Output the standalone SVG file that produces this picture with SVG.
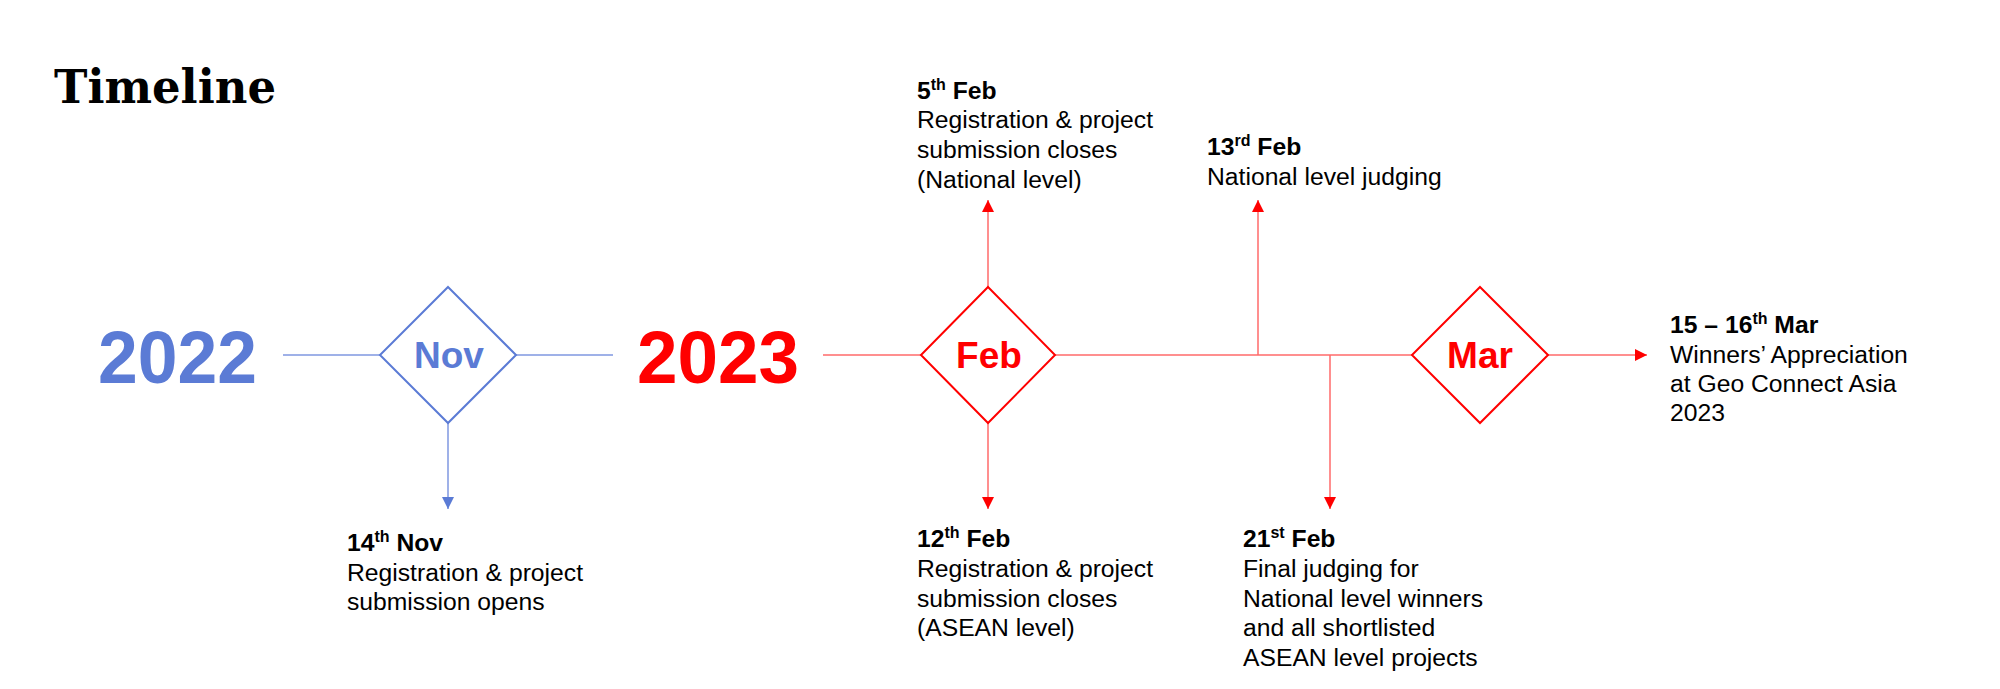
<svg xmlns="http://www.w3.org/2000/svg" width="2000" height="689" viewBox="0 0 2000 689">
<style>
.title{font-family:"DejaVu Serif","Liberation Serif",serif;font-weight:bold;font-size:46px;fill:#000}
.year{font-family:"Liberation Sans",Arial,sans-serif;font-weight:bold;font-size:74px}
.mon{font-family:"Liberation Sans",Arial,sans-serif;font-weight:bold;font-size:37px;text-anchor:middle}
.lbl{font-family:"Liberation Sans",Arial,sans-serif;font-size:24.7px;fill:#000}
.b{font-weight:bold}
.sup{font-size:16px}
.blue{fill:#5B7BD5}
.red{fill:#FF0000}
.dblue{fill:#fff;stroke:#5B7BD5;stroke-width:2}
.dred{fill:#fff;stroke:#FF0000;stroke-width:2}
.lblue{stroke:#7F97E0;stroke-width:1.5;fill:none}
.lred{stroke:#FF6A6A;stroke-width:1.5;fill:none}
</style>
<defs>
<marker id="ab" viewBox="0 0 12 12" refX="12" refY="6" markerWidth="12" markerHeight="12" markerUnits="userSpaceOnUse" orient="auto"><path d="M0,0 L12,6 L0,12 Z" fill="#5B7BD5"/></marker>
<marker id="ar" viewBox="0 0 12 12" refX="12" refY="6" markerWidth="12" markerHeight="12" markerUnits="userSpaceOnUse" orient="auto"><path d="M0,0 L12,6 L0,12 Z" fill="#FF0000"/></marker>
</defs>
<rect width="2000" height="689" fill="#fff"/>
<text class="title" x="54" y="103" textLength="222" lengthAdjust="spacingAndGlyphs">Timeline</text>
<g id="connectors">
<line class="lblue" x1="283" y1="355" x2="381" y2="355"/>
<line class="lblue" x1="515" y1="355" x2="613" y2="355"/>
<line class="lblue" x1="448" y1="423" x2="448" y2="509" marker-end="url(#ab)"/>
<line class="lred" x1="823" y1="355" x2="921" y2="355"/>
<line class="lred" x1="1055" y1="355" x2="1412" y2="355"/>
<line class="lred" x1="988" y1="287" x2="988" y2="200" marker-end="url(#ar)"/>
<line class="lred" x1="988" y1="423" x2="988" y2="509" marker-end="url(#ar)"/>
<line class="lred" x1="1258" y1="355" x2="1258" y2="200" marker-end="url(#ar)"/>
<line class="lred" x1="1330" y1="355" x2="1330" y2="509" marker-end="url(#ar)"/>
<line class="lred" x1="1548" y1="355" x2="1647" y2="355" marker-end="url(#ar)"/>
</g>
<g id="year2022"><text class="year blue" x="98" y="383" textLength="159" lengthAdjust="spacingAndGlyphs">2022</text></g>
<g id="year2023"><text class="year red" x="637" y="383" textLength="162" lengthAdjust="spacingAndGlyphs">2023</text></g>
<g id="nov">
<path class="dblue" d="M448,287 L516,355 L448,423 L380,355 Z"/>
<text class="mon blue" x="449" y="368">Nov</text>
</g>
<g id="feb">
<path class="dred" d="M988,287 L1055,355 L988,423 L921,355 Z"/>
<text class="mon red" x="989" y="368">Feb</text>
</g>
<g id="mar">
<path class="dred" d="M1480,287 L1548,355 L1480,423 L1412,355 Z"/>
<text class="mon red" x="1480" y="368">Mar</text>
</g>
<g id="ev-14nov">
<text class="lbl" x="347" y="551"><tspan class="b">14<tspan class="sup" dy="-9">th</tspan><tspan dy="9"> Nov</tspan></tspan></text>
<text class="lbl" x="347" y="581">Registration &amp; project</text>
<text class="lbl" x="347" y="610">submission opens</text>
</g>
<g id="ev-5feb">
<text class="lbl" x="917" y="99"><tspan class="b">5<tspan class="sup" dy="-9">th</tspan><tspan dy="9"> Feb</tspan></tspan></text>
<text class="lbl" x="917" y="128">Registration &amp; project</text>
<text class="lbl" x="917" y="158">submission closes</text>
<text class="lbl" x="917" y="188">(National level)</text>
</g>
<g id="ev-13feb">
<text class="lbl" x="1207" y="155"><tspan class="b">13<tspan class="sup" dy="-9">rd</tspan><tspan dy="9"> Feb</tspan></tspan></text>
<text class="lbl" x="1207" y="185">National level judging</text>
</g>
<g id="ev-12feb">
<text class="lbl" x="917" y="547"><tspan class="b">12<tspan class="sup" dy="-9">th</tspan><tspan dy="9"> Feb</tspan></tspan></text>
<text class="lbl" x="917" y="577">Registration &amp; project</text>
<text class="lbl" x="917" y="607">submission closes</text>
<text class="lbl" x="917" y="636">(ASEAN level)</text>
</g>
<g id="ev-21feb">
<text class="lbl" x="1243" y="547"><tspan class="b">21<tspan class="sup" dy="-9">st</tspan><tspan dy="9"> Feb</tspan></tspan></text>
<text class="lbl" x="1243" y="577">Final judging for</text>
<text class="lbl" x="1243" y="607">National level winners</text>
<text class="lbl" x="1243" y="636">and all shortlisted</text>
<text class="lbl" x="1243" y="666">ASEAN level projects</text>
</g>
<g id="ev-mar">
<text class="lbl" x="1670" y="333"><tspan class="b">15 – 16<tspan class="sup" dy="-9">th</tspan><tspan dy="9"> Mar</tspan></tspan></text>
<text class="lbl" x="1670" y="363">Winners’ Appreciation</text>
<text class="lbl" x="1670" y="392">at Geo Connect Asia</text>
<text class="lbl" x="1670" y="421">2023</text>
</g>
</svg>
